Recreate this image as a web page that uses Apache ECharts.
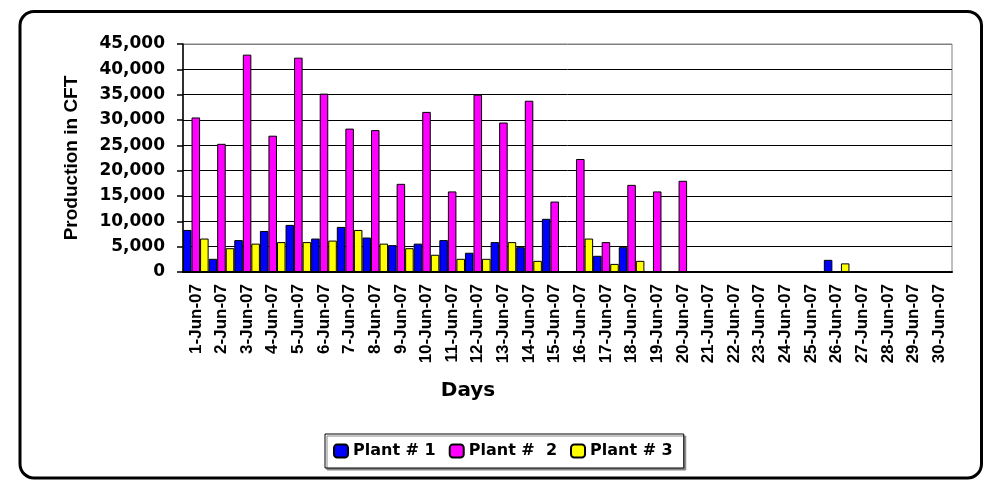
<!DOCTYPE html>
<html>
<head>
<meta charset="utf-8">
<script src="https://cdn.jsdelivr.net/npm/echarts@6/dist/echarts.min.js"></script>
<style>
    html, body { margin: 0; padding: 0; background: #fff; }
    #chart { width: 984px; height: 480px; }
</style>
</head>
<body>
<div id="chart"></div>
<script>
var days = ['1-Jun-07', '2-Jun-07', '3-Jun-07', '4-Jun-07', '5-Jun-07', '6-Jun-07', '7-Jun-07', '8-Jun-07', '9-Jun-07', '10-Jun-07',
    '11-Jun-07', '12-Jun-07', '13-Jun-07', '14-Jun-07', '15-Jun-07', '16-Jun-07', '17-Jun-07', '18-Jun-07', '19-Jun-07', '20-Jun-07',
    '21-Jun-07', '22-Jun-07', '23-Jun-07', '24-Jun-07', '25-Jun-07', '26-Jun-07', '27-Jun-07', '28-Jun-07', '29-Jun-07', '30-Jun-07'];
var plant1 = [8300, 2600, 6300, 8100, 9300, 6600, 8900, 6800, 5300, 5600,
    6300, 3800, 5900, 4900, 10500, 0, 3200, 4900, 0, 0,
    0, 0, 0, 0, 0, 2400, 0, 0, 0, 0];
var plant2 = [30500, 25300, 42900, 26900, 42300, 35200, 28300, 28000, 17400, 31600,
    15900, 35000, 29500, 33800, 13900, 22300, 5900, 17200, 15900, 18000,
    0, 0, 0, 0, 0, 0, 0, 0, 0, 0];
var plant3 = [6600, 4700, 5600, 5900, 5900, 6200, 8300, 5600, 4700, 3400,
    2600, 2600, 5900, 2200, 0, 6600, 1600, 2200, 0, 0,
    0, 0, 0, 0, 0, 1700, 0, 0, 0, 0];
var seriesNames = ['Plant # 1', 'Plant #  2', 'Plant # 3'];
var yTicks = [0, 5000, 10000, 15000, 20000, 25000, 30000, 35000, 40000, 45000];

(function(){
    var wide = 'DejaVu Sans';
    var arial = 'Liberation Sans';

    // grid lines black, the top one grey like the plot border
    var splitColors = [];
    for (var i = 0; i < yTicks.length; i++) {
        splitColors.push(i === yTicks.length - 1 ? '#808080' : '#000');
    }

    function barSeries(name, data, color) {
        return {
            name: name,
            type: 'bar',
            data: data,
            barGap: '0%',
            barCategoryGap: '0%',
            itemStyle: { color: color, borderColor: '#000', borderWidth: 1 }
        };
    }

    var dom = document.getElementById('chart');
    var myChart = echarts.init(dom);
    var option = {
        animation: false,
        backgroundColor: '#fff',
        grid: {
            left: 183, right: 32, top: 44, bottom: 208,
            show: true, borderColor: '#808080', borderWidth: 1
        },
        legend: {
            left: 325, top: 434,
            padding: [9, 11, 9, 8],
            itemGap: 13,
            itemWidth: 14, itemHeight: 13,
            borderColor: '#000', borderWidth: 1,
            backgroundColor: '#fff',
            shadowColor: '#888', shadowOffsetX: 2, shadowOffsetY: 2, shadowBlur: 0,
            textStyle: { fontFamily: wide, fontWeight: 'bold', fontSize: 16, color: '#000' },
            data: seriesNames
        },
        xAxis: {
            type: 'category',
            data: days,
            axisLine: { lineStyle: { color: '#000', width: 2 } },
            axisTick: { length: 5, lineStyle: { color: '#000', width: 1.5 } },
            axisLabel: {
                interval: 0, rotate: 90, margin: 12,
                fontFamily: arial, fontWeight: 'bold', fontSize: 17, color: '#000'
            }
        },
        yAxis: {
            type: 'value',
            min: 0, max: 45000, interval: 5000,
            name: 'Production in CFT',
            nameLocation: 'middle',
            nameRotate: 90,
            nameGap: 102,
            nameTextStyle: { fontFamily: arial, fontWeight: 'bold', fontSize: 19, color: '#000' },
            axisLine: { show: true, lineStyle: { color: '#000', width: 1.5 } },
            axisTick: { show: true, length: 6, lineStyle: { color: '#000', width: 1.5 } },
            axisLabel: {
                margin: 18,
                fontFamily: wide, fontWeight: 'bold', fontSize: 17, color: '#000',
                formatter: function(v) { return v.toLocaleString('en-US'); }
            },
            splitLine: { lineStyle: { color: splitColors, width: 1 } }
        },
        graphic: [
            {
                type: 'rect',
                shape: { x: 20, y: 11.5, width: 961.5, height: 466.5, r: 14 },
                style: { fill: null, stroke: '#000', lineWidth: 3 },
                silent: true
            },
            {
                type: 'text',
                x: 468, y: 391,
                style: {
                    text: 'Days', align: 'center', verticalAlign: 'middle',
                    font: 'bold 20px "DejaVu Sans"', fill: '#000'
                }
            }
        ],
        series: [
            barSeries(seriesNames[0], plant1, '#0000ff'),
            barSeries(seriesNames[1], plant2, '#ff00ff'),
            barSeries(seriesNames[2], plant3, '#ffff00')
        ]
    };
    myChart.setOption(option);
})();
</script>
</body>
</html>
